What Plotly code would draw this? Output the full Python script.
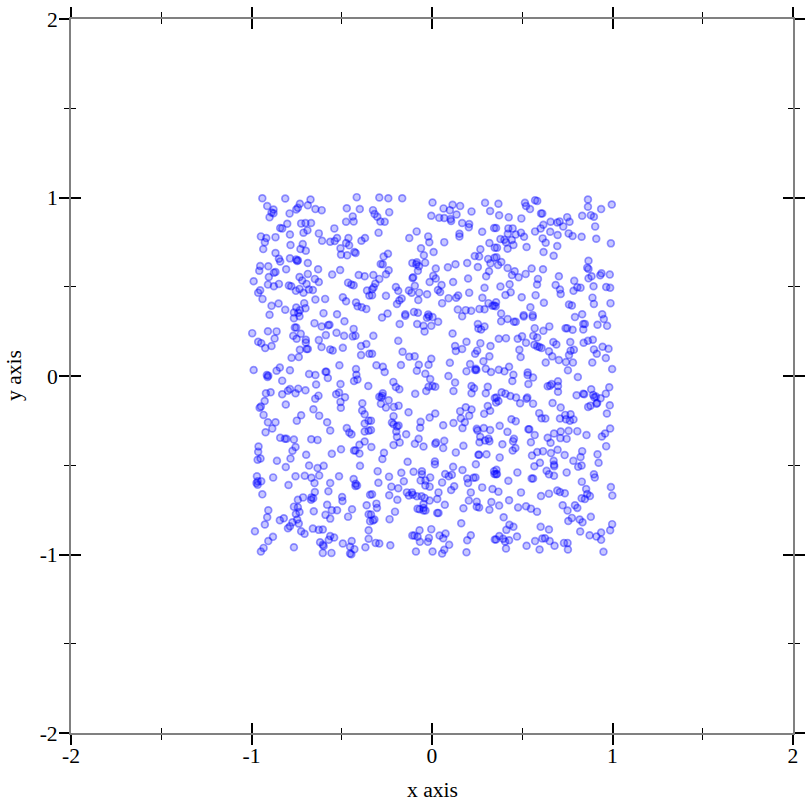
import plotly.graph_objects as go

x_a = [-0.940,-0.813,-0.673,-0.417,-0.913,-0.732,-0.688,-0.878,-0.752,-0.743,-0.646,-0.611,-0.472,-0.400,-0.889,-0.878,-0.789,-0.900,-0.439,-0.476,-0.434,-0.841,-0.830,-0.802,-0.725,-0.701,-0.670,-0.541,-0.690,-0.712,-0.948,-0.918,-0.867,-0.787,-0.627,-0.526,-0.609,-0.564,-0.539,-0.463,-0.371,-0.391,-0.926,-0.716,-0.784,-0.476,-0.459,-0.935,-0.729,-0.699,-0.507,-0.867,-0.430,-0.423,-0.504,-0.470,-0.787,-0.848,-0.841,-0.752,-0.743,-0.747,-0.688,-0.952,-0.907,-0.957,-0.867,-0.876,-0.808,-0.631,-0.509,-0.688,-0.553,-0.406,-0.373,-0.904,-0.734,-0.649,-0.988,-0.719,-0.627,-0.909,-0.876,-0.848,-0.793,-0.780,-0.695,-0.465,-0.447,-0.434,-0.952,-0.963,-0.754,-0.734,-0.712,-0.682,-0.660,-0.360,-0.939,-0.646,-0.592,-0.494,-0.476,-0.347,-0.889,-0.850,-0.708,-0.752,-0.813,-0.701,-0.421,-0.412,-0.389,-0.364,-0.732,-0.765,-0.741,-0.900,-0.601,-0.526]
y_a = [0.996,0.994,0.989,1.002,0.952,0.965,0.957,0.933,0.933,0.942,0.935,0.929,0.940,0.935,0.916,0.912,0.911,0.890,0.894,0.864,0.866,0.829,0.827,0.853,0.855,0.857,0.857,0.827,0.816,0.803,0.782,0.773,0.778,0.793,0.799,0.773,0.758,0.752,0.756,0.773,0.773,0.758,0.750,0.739,0.734,0.745,0.732,0.711,0.711,0.702,0.715,0.689,0.695,0.689,0.680,0.676,0.659,0.657,0.642,0.652,0.648,0.644,0.633,0.616,0.615,0.590,0.583,0.579,0.598,0.598,0.594,0.572,0.568,0.566,0.559,0.555,0.555,0.544,0.531,0.535,0.527,0.512,0.503,0.516,0.507,0.503,0.516,0.523,0.512,0.508,0.480,0.467,0.477,0.488,0.466,0.484,0.482,0.479,0.432,0.428,0.432,0.441,0.419,0.451,0.393,0.406,0.408,0.384,0.371,0.380,0.412,0.391,0.385,0.376,0.369,0.356,0.354,0.343,0.352,0.346]

x_b = [-0.292,-0.242,-0.165,0.003,0.294,0.114,0.156,0.064,0.099,0.219,0.322,-0.327,-0.237,-0.318,-0.303,-0.004,0.040,0.068,0.136,0.103,0.106,-0.286,-0.262,0.167,0.206,0.204,0.344,-0.296,-0.085,-0.126,-0.021,0.152,0.152,0.278,-0.015,0.068,0.318,-0.061,0.009,0.268,0.348,-0.244,-0.045,-0.268,0.237,0.261,0.311,0.346,-0.284,-0.273,-0.109,-0.084,-0.087,-0.072,-0.038,0.130,0.195,0.088,0.254,0.324,0.021,-0.078,-0.240,-0.255,-0.325,0.316,0.300,0.007,0.021,-0.108,-0.104,-0.292,0.200,-0.314,-0.013,0.117,0.053,-0.095,0.291,-0.200,-0.187,-0.323,-0.331,-0.128,-0.113,-0.071,-0.027,0.033,0.045,0.206,-0.332,-0.255,0.145,0.134,0.092,0.279,-0.076,-0.168,-0.181,-0.194,0.056,0.313,0.335,0.344,0.143,0.187,0.217,0.263,0.291,-0.246,-0.148,-0.100,-0.078,-0.021]
y_b = [1.000,0.996,0.996,0.972,0.970,0.959,0.953,0.939,0.929,0.922,0.924,0.929,0.918,0.907,0.892,0.898,0.886,0.885,0.905,0.879,0.868,0.866,0.864,0.857,0.851,0.834,0.829,0.803,0.810,0.773,0.782,0.797,0.782,0.808,0.749,0.750,0.745,0.715,0.695,0.710,0.719,0.685,0.676,0.669,0.672,0.670,0.656,0.663,0.628,0.626,0.633,0.637,0.626,0.615,0.635,0.626,0.633,0.609,0.611,0.631,0.602,0.589,0.592,0.570,0.566,0.587,0.559,0.561,0.546,0.549,0.553,0.544,0.546,0.518,0.527,0.527,0.510,0.505,0.494,0.499,0.477,0.497,0.486,0.479,0.466,0.467,0.458,0.482,0.471,0.467,0.453,0.449,0.451,0.438,0.436,0.438,0.426,0.434,0.423,0.404,0.408,0.408,0.393,0.395,0.372,0.369,0.365,0.376,0.374,0.350,0.346,0.359,0.354,0.345]

x_c = [0.368,0.515,0.571,0.583,0.864,0.996,0.521,0.543,0.864,0.937,0.372,0.425,0.495,0.604,0.611,0.832,0.880,0.897,0.749,0.657,0.694,0.707,0.762,0.617,0.727,0.904,0.355,0.423,0.447,0.602,0.571,0.493,0.655,0.420,0.464,0.696,0.757,0.779,0.829,0.510,0.379,0.401,0.442,0.613,0.910,0.410,0.630,0.991,0.451,0.360,0.419,0.524,0.694,0.618,0.674,0.357,0.867,0.384,0.366,0.419,0.860,0.867,0.552,0.615,0.458,0.443,0.519,0.480,0.703,0.939,0.932,0.985,0.884,0.867,0.587,0.788,0.582,0.430,0.685,0.379,0.895,0.965,0.987,0.709,0.805,0.823,0.784,0.436,0.713,0.407,0.574,0.497,0.889,0.355,0.353,0.620,0.897,0.989,0.759,0.775,0.545,0.383,0.508,0.558,0.832,0.943]
y_c = [0.965,0.970,0.985,0.981,0.989,0.961,0.952,0.935,0.948,0.935,0.900,0.890,0.883,0.911,0.911,0.898,0.901,0.892,0.890,0.864,0.860,0.866,0.864,0.847,0.838,0.838,0.829,0.827,0.827,0.827,0.810,0.803,0.808,0.797,0.793,0.790,0.799,0.784,0.780,0.780,0.767,0.763,0.762,0.771,0.769,0.750,0.747,0.743,0.734,0.719,0.713,0.723,0.728,0.695,0.674,0.665,0.646,0.639,0.622,0.605,0.607,0.600,0.602,0.598,0.587,0.566,0.572,0.553,0.559,0.575,0.564,0.568,0.559,0.547,0.544,0.533,0.512,0.514,0.510,0.501,0.503,0.499,0.494,0.484,0.497,0.495,0.477,0.469,0.460,0.454,0.453,0.441,0.439,0.413,0.391,0.410,0.404,0.408,0.400,0.395,0.385,0.350,0.341,0.341,0.346,0.346]

x_d = [-0.765,-0.734,-0.651,-0.485,-0.611,-0.575,-0.568,-0.434,-0.760,-0.752,-0.996,-0.909,-0.861,-0.727,-0.769,-0.750,-0.588,-0.529,-0.487,-0.439,-0.424,-0.872,-0.627,-0.699,-0.699,-0.963,-0.946,-0.924,-0.889,-0.612,-0.732,-0.695,-0.688,-0.564,-0.550,-0.494,-0.393,-0.364,-0.778,-0.738,-0.393,-0.347,-0.513,-0.988,-0.843,-0.861,-0.787,-0.421,-0.590,-0.585,-0.419,-0.681,-0.646,-0.915,-0.907,-0.911,-0.577,-0.413,-0.432,-0.830,-0.642,-0.507,-0.353,-0.787,-0.798,-0.741,-0.701,-0.756,-0.920,-0.894,-0.830,-0.515,-0.531,-0.629,-0.647,-0.482,-0.927,-0.507,-0.810,-0.948,-0.955,-0.505,-0.386,-0.657,-0.387,-0.373,-0.933,-0.725,-0.625,-0.749,-0.909,-0.867,-0.581,-0.351,-0.373,-0.472,-0.885,-0.564,-0.922,-0.373,-0.351,-0.458,-0.446,-0.841,-0.815,-0.806,-0.765,-0.669,-0.634]
y_d = [0.324,0.335,0.296,0.307,0.277,0.285,0.287,0.264,0.272,0.272,0.240,0.251,0.250,0.237,0.225,0.209,0.229,0.242,0.225,0.222,0.225,0.210,0.201,0.203,0.188,0.192,0.184,0.157,0.168,0.162,0.147,0.151,0.151,0.149,0.143,0.158,0.168,0.179,0.102,0.106,0.117,0.125,0.060,0.034,0.047,0.030,0.032,0.039,0.024,0.024,0.007,0.011,0.006,0.006,0.002,-0.006,-0.011,-0.019,-0.028,-0.026,-0.048,-0.045,-0.056,-0.073,-0.082,-0.071,-0.080,-0.097,-0.097,-0.091,-0.102,-0.093,-0.102,-0.110,-0.127,-0.119,-0.140,-0.145,-0.160,-0.171,-0.178,-0.178,-0.153,-0.186,-0.193,-0.214,-0.218,-0.220,-0.222,-0.250,-0.259,-0.259,-0.259,-0.250,-0.266,-0.292,-0.294,-0.305,-0.315,-0.311,-0.307,-0.317,-0.326,-0.346,-0.352,-0.352,-0.356,-0.354,-0.358]

x_e = [-0.277,-0.148,-0.028,-0.017,0.003,0.034,0.167,-0.179,-0.082,-0.047,-0.004,-0.041,0.254,0.291,0.257,0.272,0.114,-0.325,-0.187,0.191,0.268,0.324,0.128,0.167,0.132,0.250,0.239,-0.163,-0.332,-0.126,-0.096,-0.004,0.318,0.285,0.099,0.211,-0.308,-0.272,-0.172,-0.073,-0.019,-0.084,0.243,0.246,0.239,0.298,0.191,0.327,-0.262,-0.037,0.091,-0.010,-0.214,0.128,-0.200,-0.181,0.003,0.018,-0.019,-0.032,0.219,0.233,0.219,0.309,0.298,0.119,-0.093,-0.273,-0.275,-0.292,-0.281,0.348,-0.240,-0.283,-0.255,-0.211,-0.185,0.309,0.187,0.219,0.156,0.322,-0.130,0.018,0.289,0.206,-0.213,-0.013,0.160,-0.338,0.182,0.119,0.062,-0.063,-0.066,-0.222,-0.213,-0.194,-0.185,0.169,-0.198,-0.338,0.248,0.287,0.252,0.322,-0.143,-0.194,-0.074,0.267,0.313]
y_e = [0.328,0.337,0.326,0.335,0.330,0.304,0.335,0.291,0.291,0.281,0.281,0.250,0.291,0.277,0.266,0.261,0.238,0.225,0.197,0.192,0.184,0.168,0.168,0.151,0.140,0.142,0.125,0.136,0.125,0.108,0.110,0.097,0.110,0.082,0.074,0.067,0.060,0.052,0.062,0.063,0.063,0.030,0.041,0.034,0.034,0.041,0.026,0.022,0.022,0.013,0.000,-0.017,-0.033,-0.037,-0.061,-0.074,-0.056,-0.060,-0.060,-0.084,-0.056,-0.069,-0.097,-0.060,-0.097,-0.084,-0.100,-0.097,-0.110,-0.116,-0.121,-0.123,-0.136,-0.156,-0.177,-0.173,-0.166,-0.168,-0.175,-0.188,-0.197,-0.195,-0.203,-0.210,-0.212,-0.222,-0.225,-0.233,-0.237,-0.250,-0.259,-0.263,-0.276,-0.257,-0.290,-0.261,-0.270,-0.283,-0.277,-0.292,-0.311,-0.303,-0.296,-0.292,-0.305,-0.303,-0.326,-0.341,-0.352,-0.341,-0.352]

x_f = [0.383,0.419,0.454,0.464,0.508,0.558,0.792,0.838,0.847,0.917,0.952,0.970,0.569,0.650,0.617,0.740,0.749,0.779,0.838,0.561,0.583,0.370,0.410,0.475,0.499,0.521,0.766,0.840,0.864,0.891,0.672,0.689,0.567,0.583,0.595,0.607,0.945,0.978,0.897,0.484,0.648,0.768,0.786,0.759,0.913,0.491,0.666,0.703,0.963,0.742,0.781,0.630,0.888,0.427,0.370,0.401,0.753,0.998,0.530,0.530,0.451,0.560,0.808,0.445,0.698,0.534,0.663,0.641,0.654,0.698,0.698,0.982,0.882,0.386,0.407,0.434,0.466,0.528,0.524,0.801,0.838,0.843,0.963,0.893,0.899,0.908,0.934,0.357,0.368,0.355,0.488,0.560,0.668,0.915,0.911,0.985,0.713,0.865,0.878,0.969,0.594,0.738,0.768,0.607,0.628,0.440,0.464,0.709,0.742,0.764,0.784,0.375,0.534,0.539,0.987,0.418,0.713,0.757,0.805,0.676,0.569,0.856,0.959,0.941,0.454,0.641,0.711,0.746]
y_f = [0.307,0.319,0.304,0.304,0.333,0.330,0.330,0.291,0.292,0.287,0.319,0.281,0.268,0.278,0.253,0.268,0.268,0.259,0.261,0.225,0.216,0.209,0.212,0.209,0.222,0.186,0.190,0.186,0.197,0.203,0.190,0.177,0.175,0.166,0.162,0.157,0.164,0.153,0.149,0.147,0.138,0.142,0.147,0.117,0.125,0.106,0.110,0.089,0.101,0.078,0.075,0.075,0.076,0.052,0.035,0.026,0.032,0.039,0.020,0.006,0.007,-0.009,-0.006,-0.028,-0.030,-0.045,-0.045,-0.057,-0.054,-0.056,-0.088,-0.063,-0.074,-0.091,-0.099,-0.112,-0.121,-0.121,-0.128,-0.108,-0.099,-0.102,-0.099,-0.106,-0.119,-0.115,-0.125,-0.121,-0.140,-0.149,-0.153,-0.155,-0.151,-0.151,-0.156,-0.164,-0.177,-0.173,-0.166,-0.210,-0.208,-0.218,-0.214,-0.237,-0.238,-0.242,-0.253,-0.238,-0.242,-0.251,-0.244,-0.279,-0.298,-0.298,-0.294,-0.313,-0.311,-0.307,-0.309,-0.322,-0.331,-0.331,-0.322,-0.339,-0.352,-0.346,-0.348,-0.352]

x_g = [-0.756,-0.961,-0.963,-0.773,-0.697,-0.555,-0.504,-0.432,-0.424,-0.402,-0.402,-0.373,-0.950,-0.966,-0.784,-0.859,-0.810,-0.681,-0.634,-0.600,-0.399,-0.970,-0.880,-0.756,-0.705,-0.668,-0.625,-0.515,-0.966,-0.972,-0.946,-0.966,-0.795,-0.651,-0.564,-0.434,-0.423,-0.415,-0.424,-0.940,-0.649,-0.574,-0.343,-0.714,-0.743,-0.668,-0.658,-0.670,-0.498,-0.496,-0.581,-0.362,-0.765,-0.743,-0.907,-0.734,-0.655,-0.555,-0.526,-0.443,-0.754,-0.590,-0.351,-0.913,-0.564,-0.465,-0.821,-0.843,-0.747,-0.343,-0.773,-0.738,-0.926,-0.787,-0.798,-0.660,-0.627,-0.605,-0.981,-0.725,-0.706,-0.351,-0.881,-0.564,-0.542,-0.572,-0.351,-0.907,-0.620,-0.605,-0.600,-0.494,-0.445,-0.454,-0.430,-0.369,-0.933,-0.765,-0.948,-0.605,-0.557,-0.454,-0.447]
y_g = [-0.398,-0.395,-0.425,-0.419,-0.441,-0.436,-0.411,-0.417,-0.417,-0.434,-0.385,-0.367,-0.462,-0.469,-0.462,-0.475,-0.510,-0.501,-0.516,-0.503,-0.503,-0.562,-0.568,-0.562,-0.559,-0.570,-0.557,-0.562,-0.590,-0.600,-0.590,-0.609,-0.611,-0.600,-0.600,-0.577,-0.603,-0.614,-0.616,-0.663,-0.650,-0.646,-0.665,-0.680,-0.693,-0.680,-0.685,-0.693,-0.678,-0.700,-0.721,-0.724,-0.732,-0.735,-0.752,-0.762,-0.758,-0.752,-0.752,-0.747,-0.773,-0.778,-0.775,-0.791,-0.799,-0.788,-0.797,-0.808,-0.804,-0.814,-0.819,-0.827,-0.832,-0.842,-0.853,-0.855,-0.862,-0.860,-0.870,-0.870,-0.884,-0.864,-0.901,-0.897,-0.905,-0.918,-0.912,-0.925,-0.931,-0.946,-0.953,-0.938,-0.924,-0.957,-0.970,-0.959,-0.963,-0.959,-0.983,-0.991,-0.991,-0.994,-0.999]

x_h = [-0.336,-0.213,-0.179,-0.095,-0.047,0.018,0.023,0.062,0.068,0.174,0.263,0.294,0.318,-0.266,-0.275,0.132,0.257,0.261,0.302,-0.135,0.016,0.016,0.243,0.117,-0.301,-0.170,-0.102,-0.056,-0.056,0.169,-0.238,-0.010,0.073,0.093,0.110,0.195,0.230,0.241,0.344,0.346,-0.297,-0.156,-0.063,-0.036,0.056,0.200,-0.225,-0.187,-0.037,-0.013,0.123,0.106,0.278,0.335,-0.139,-0.111,-0.128,-0.106,-0.332,-0.237,-0.084,-0.058,0.036,0.215,-0.192,0.029,-0.013,-0.041,0.204,0.248,0.329,-0.308,-0.047,0.071,0.248,0.261,-0.305,-0.080,-0.069,-0.047,-0.036,-0.047,0.174,0.318,-0.205,0.029,0.036,-0.338,-0.319,-0.327,-0.235,0.162,-0.069,-0.004,0.075,-0.109,-0.098,-0.080,0.042,0.062,-0.017,0.215,-0.067,-0.023,0.195,0.348,-0.312,-0.292,-0.231,0.095,0.068,-0.089,0.003,0.056,0.191]
y_h = [-0.398,-0.387,-0.372,-0.380,-0.395,-0.380,-0.372,-0.404,-0.363,-0.391,-0.371,-0.361,-0.365,-0.430,-0.465,-0.428,-0.441,-0.441,-0.439,-0.480,-0.479,-0.495,-0.495,-0.508,-0.533,-0.542,-0.536,-0.534,-0.551,-0.527,-0.564,-0.568,-0.549,-0.562,-0.553,-0.574,-0.570,-0.568,-0.534,-0.549,-0.598,-0.590,-0.585,-0.585,-0.596,-0.600,-0.620,-0.629,-0.613,-0.620,-0.618,-0.639,-0.624,-0.633,-0.652,-0.652,-0.670,-0.665,-0.663,-0.668,-0.674,-0.674,-0.652,-0.652,-0.693,-0.689,-0.698,-0.683,-0.698,-0.704,-0.706,-0.715,-0.717,-0.721,-0.732,-0.737,-0.739,-0.743,-0.747,-0.739,-0.754,-0.754,-0.741,-0.749,-0.760,-0.767,-0.767,-0.776,-0.804,-0.810,-0.802,-0.825,-0.864,-0.858,-0.883,-0.894,-0.894,-0.901,-0.894,-0.909,-0.907,-0.892,-0.929,-0.929,-0.920,-0.916,-0.935,-0.938,-0.948,-0.946,-0.974,-0.983,-0.983,-0.994,-0.987]

x_i = [0.390,0.449,0.548,0.657,0.965,0.462,0.447,0.615,0.583,0.696,0.659,0.832,0.554,0.735,0.917,0.375,0.823,0.783,0.674,0.676,0.598,0.923,0.567,0.677,0.810,0.829,0.357,0.360,0.355,0.635,0.648,0.473,0.746,0.676,0.897,0.902,0.552,0.560,0.423,0.830,0.991,0.854,0.368,0.694,0.709,0.736,0.493,0.604,0.648,0.999,0.860,0.875,0.829,0.847,0.427,0.372,0.724,0.792,0.805,0.477,0.521,0.548,0.582,0.751,0.397,0.775,0.880,0.755,0.818,0.834,0.429,0.451,0.602,0.998,0.412,0.648,0.987,0.821,0.937,0.873,0.911,0.373,0.471,0.355,0.394,0.427,0.405,0.611,0.626,0.571,0.652,0.937,0.731,0.751,0.524,0.679,0.410,0.596,0.753,0.950]
y_i = [-0.382,-0.365,-0.371,-0.374,-0.393,-0.404,-0.417,-0.421,-0.426,-0.413,-0.432,-0.421,-0.445,-0.443,-0.439,-0.456,-0.454,-0.475,-0.475,-0.497,-0.486,-0.486,-0.506,-0.505,-0.508,-0.501,-0.525,-0.549,-0.551,-0.531,-0.551,-0.540,-0.540,-0.559,-0.551,-0.568,-0.574,-0.574,-0.587,-0.592,-0.622,-0.633,-0.648,-0.642,-0.650,-0.657,-0.652,-0.672,-0.659,-0.670,-0.661,-0.672,-0.685,-0.689,-0.696,-0.726,-0.724,-0.724,-0.739,-0.737,-0.730,-0.743,-0.760,-0.754,-0.791,-0.795,-0.789,-0.812,-0.804,-0.819,-0.834,-0.845,-0.845,-0.830,-0.862,-0.860,-0.864,-0.871,-0.877,-0.892,-0.899,-0.896,-0.899,-0.916,-0.912,-0.920,-0.927,-0.910,-0.909,-0.925,-0.925,-0.918,-0.935,-0.935,-0.951,-0.951,-0.966,-0.972,-0.972,-0.985]

major_ticks = [-2, -1, 0, 1, 2]
major_labels = ["-2", "-1", "0", "1", "2"]
minor_ticks = [-1.5, -0.5, 0.5, 1.5]
x_title = "x axis"
y_title = "y axis"

x_values = x_a + x_b + x_c + x_d + x_e + x_f + x_g + x_h + x_i
y_values = y_a + y_b + y_c + y_d + y_e + y_f + y_g + y_h + y_i

FONT = "Liberation Serif"
FS = 21.6

fig = go.Figure()
fig.add_trace(go.Scatter(
    x=x_values, y=y_values, mode="markers", showlegend=False, cliponaxis=False,
    marker=dict(size=6.8, color="rgba(0,0,255,0.22)",
                line=dict(width=1.7, color="rgba(0,0,255,0.4)")),
))
for i in (2, 3, 4):
    fig.add_trace(go.Scatter(x=[], y=[], xaxis=f"x{i}", yaxis=f"y{i}", showlegend=False))


def tick_style(direction):
    return dict(
        range=[-2, 2], tickmode="array", tickvals=major_ticks, ticktext=major_labels,
        ticks=direction, ticklen=10, tickwidth=2, tickcolor="black",
        minor=dict(tickmode="array", tickvals=minor_ticks, ticks=direction,
                   ticklen=5, tickwidth=1, tickcolor="black"),
        showgrid=False, zeroline=False, automargin=False,
    )


line = dict(showline=True, linecolor="#808080", linewidth=2)
font = dict(family=FONT, size=FS, color="black")

fig.update_layout(
    width=812, height=812,
    margin=dict(l=71, r=19.3, t=19, b=79, autoexpand=False),
    plot_bgcolor="white", paper_bgcolor="white",
    font=dict(family=FONT, size=FS, color="black"),
    xaxis=dict(**tick_style("outside"), **line, side="bottom", anchor="y", tickfont=font, ticklabelstandoff=-8),
    yaxis=dict(**tick_style("outside"), **line, side="left", anchor="x", tickfont=font, ticklabelstandoff=-3),
    xaxis2=dict(**tick_style("inside"), side="bottom", overlaying="x", anchor="y2", showticklabels=False),
    yaxis2=dict(**tick_style("inside"), side="left", overlaying="y", anchor="x2", showticklabels=False),
    xaxis3=dict(**tick_style("outside"), **line, side="top", overlaying="x", anchor="y3", showticklabels=False),
    yaxis3=dict(**tick_style("outside"), **line, side="right", overlaying="y", anchor="x3", showticklabels=False),
    xaxis4=dict(**tick_style("inside"), side="top", overlaying="x", anchor="y4", showticklabels=False),
    yaxis4=dict(**tick_style("inside"), side="right", overlaying="y", anchor="x4", showticklabels=False),
    annotations=[
        dict(text=x_title, xref="x", yref="paper", x=0, y=0, yshift=-57, yanchor="middle",
             showarrow=False, font=font),
        dict(text=y_title, xref="paper", yref="y", x=0, y=0, xshift=-57, xanchor="center",
             textangle=-90, showarrow=False, font=font),
    ],
)

fig.write_html("out.html", config={"displayModeBar": False},
               post_script="document.body.style.margin='0';document.body.style.overflow='hidden';window.dispatchEvent(new Event('resize'));")
